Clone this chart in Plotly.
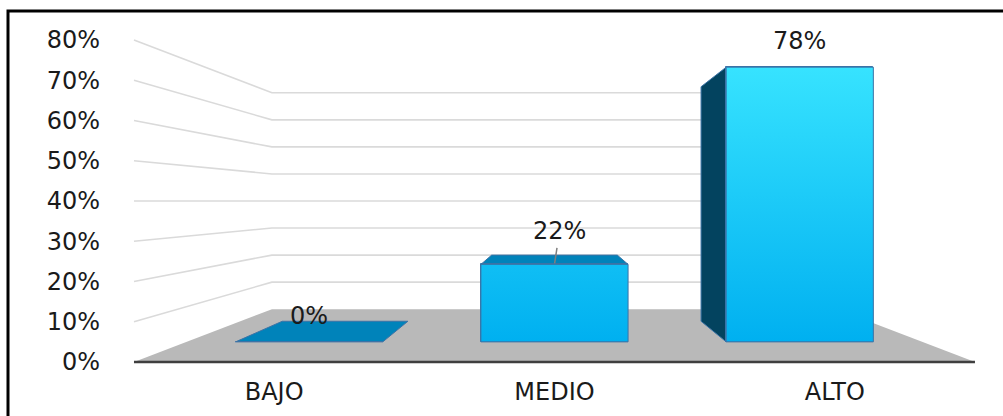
import plotly.graph_objects as go

# ---- data -------------------------------------------------------------
categories = ["BAJO", "MEDIO", "ALTO"]
values = [0.00, 0.22, 0.78]
y_ticks = [0.0, 0.1, 0.2, 0.3, 0.4, 0.5, 0.6, 0.7, 0.8]
y_tick_labels = ["0%", "10%", "20%", "30%", "40%", "50%", "60%", "70%", "80%"]

# ---- geometry of the 3-D look ----------------------------------------
W, H = 1003, 416
X_RANGE = [-0.978, 2.600]      # category units on the front plane
Y_RANGE = [-0.1342, 0.8994]    # value units on the front plane
VP_X, VP_Y = 1.0, 0.40         # vanishing point (front-plane units)
K_BAR_FRONT = 0.875            # depth scale of the column front faces
K_BAR_BACK = 0.747             # depth scale of the column back faces
K_WALL = 0.672                 # depth scale of the back wall
BAR_W = 0.6

# ---- styles -------------------------------------------------------------
FONT = "DejaVu Sans"
TEXT = "#1a1a1a"
GRID = "#dadada"
FLOOR = "#b9b9b9"
FLOOR_EDGE = "#3f3f3f"
TOP_FACE = "#0083ba"
SIDE_FACE = "#03435f"
OUTLINE = "#3c73a6"
FRONT_SCALE = [[0.0, "#00b0f0"], [1.0, "#38e4ff"]]
LABEL_YSHIFT = 26


def proj(x, v, k):
    """Project a point of depth scale k onto the front plane."""
    return VP_X + (x - VP_X) * k, VP_Y + (v - VP_Y) * k


def scaled_range(rng, vp, k):
    return [vp + (r - vp) / k for r in rng]


fig = go.Figure()

# back wall + left wall grid lines
gx, gy = [], []
for v in y_ticks[1:]:
    x0, y0 = proj(-0.5, v, 1.0)
    x1, y1 = proj(-0.5, v, K_WALL)
    x2, y2 = proj(2.5, v, K_WALL)
    gx += [x0, x1, x2, None]
    gy += [y0, y1, y2, None]
fig.add_trace(go.Scatter(x=gx, y=gy, mode="lines",
                         line=dict(color=GRID, width=1.6),
                         hoverinfo="skip", showlegend=False))

# floor
corners = [proj(-0.5, 0, 1.0), proj(-0.5, 0, K_WALL),
           proj(2.5, 0, K_WALL), proj(2.5, 0, 1.0)]
fig.add_trace(go.Scatter(x=[c[0] for c in corners] + [corners[0][0]],
                         y=[c[1] for c in corners] + [corners[0][1]],
                         mode="lines", fill="toself", fillcolor=FLOOR,
                         line=dict(width=0), hoverinfo="skip",
                         showlegend=False))
fx0, fy0 = proj(-0.5, 0, 1.0)
fx1, fy1 = proj(2.5, 0, 1.0)
fig.add_trace(go.Scatter(x=[fx0, fx1], y=[fy0, fy1], mode="lines",
                         line=dict(color=FLOOR_EDGE, width=2.5),
                         hoverinfo="skip", showlegend=False))


def face(points, color):
    xs = [p[0] for p in points] + [points[0][0]]
    ys = [p[1] for p in points] + [points[0][1]]
    fig.add_trace(go.Scatter(x=xs, y=ys, mode="lines", fill="toself",
                             fillcolor=color,
                             line=dict(color=OUTLINE, width=1),
                             hoverinfo="skip", showlegend=False))


# visible side and top faces of each column
for i, v in enumerate(values):
    xl, xr = i - BAR_W / 2, i + BAR_W / 2
    if v < VP_Y:
        face([proj(xl, v, K_BAR_FRONT), proj(xr, v, K_BAR_FRONT),
              proj(xr, v, K_BAR_BACK), proj(xl, v, K_BAR_BACK)], TOP_FACE)
    if v > 0 and xl > VP_X:
        face([proj(xl, 0, K_BAR_FRONT), proj(xl, v, K_BAR_FRONT),
              proj(xl, v, K_BAR_BACK), proj(xl, 0, K_BAR_BACK)], SIDE_FACE)
    if v > 0 and xr < VP_X:
        face([proj(xr, 0, K_BAR_FRONT), proj(xr, v, K_BAR_FRONT),
              proj(xr, v, K_BAR_BACK), proj(xr, 0, K_BAR_BACK)], SIDE_FACE)

# column front faces on the bar-front plane axes
fig.add_trace(go.Bar(x=list(range(len(categories))), y=values, width=BAR_W,
                     marker=dict(color="#0ab8f4",
                                 line=dict(color=OUTLINE, width=1)),
                     xaxis="x2", yaxis="y2", hoverinfo="skip",
                     showlegend=False))
for i, v in enumerate(values):
    if v <= 0:
        continue
    xl, xr = i - BAR_W / 2, i + BAR_W / 2
    fig.add_trace(go.Scatter(
        x=[xl, xr, xr, xl, xl], y=[0, 0, v, v, 0], mode="lines",
        fill="toself",
        fillgradient=dict(type="vertical", colorscale=FRONT_SCALE,
                          start=0, stop=y_ticks[-1]),
        line=dict(color=OUTLINE, width=1),
        xaxis="x2", yaxis="y2", hoverinfo="skip", showlegend=False))

# value labels
for i, v in enumerate(values):
    label = f"{v:.0%}"
    if 0 < v < VP_Y:
        fig.add_annotation(x=i, y=v, xref="x2", yref="y2", text=label,
                           showarrow=True, arrowhead=0, arrowwidth=1.5,
                           arrowcolor="#7f7f7f", ax=5, ay=-33,
                           startstandoff=1, standoff=1,
                           font=dict(family=FONT, size=24, color=TEXT))
    else:
        fig.add_annotation(x=i, y=v, xref="x2", yref="y2", text=label,
                           showarrow=False, yshift=LABEL_YSHIFT,
                           font=dict(family=FONT, size=24, color=TEXT))

axis_common = dict(showgrid=False, zeroline=False, showline=False,
                   ticks="", fixedrange=True)

fig.update_layout(
    width=W, height=H,
    margin=dict(l=0, r=0, t=0, b=0),
    paper_bgcolor="white", plot_bgcolor="white",
    bargap=0,
    xaxis=dict(domain=[0, 1], range=X_RANGE, anchor="free",
               position=(H - 362) / H,
               tickvals=list(range(len(categories))), ticktext=categories,
               tickfont=dict(family=FONT, size=24, color=TEXT),
               ticklabelstandoff=13, **axis_common),
    yaxis=dict(domain=[0, 1], range=Y_RANGE, anchor="free",
               position=134 / W,
               tickvals=y_ticks, ticktext=y_tick_labels,
               tickfont=dict(family=FONT, size=24, color=TEXT),
               ticklabelstandoff=34, **axis_common),
    xaxis2=dict(overlaying="x", visible=False,
                range=scaled_range(X_RANGE, VP_X, K_BAR_FRONT),
                fixedrange=True),
    yaxis2=dict(overlaying="y", visible=False,
                range=scaled_range(Y_RANGE, VP_Y, K_BAR_FRONT),
                fixedrange=True),
    shapes=[dict(type="rect", xref="paper", yref="paper",
                 x0=8 / W, x1=1.05, y0=-0.05, y1=1 - 11 / H,
                 line=dict(color="black", width=3), layer="above")],
)

fig.write_html("out.html")
